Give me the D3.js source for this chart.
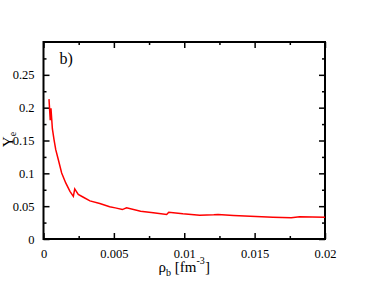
<!DOCTYPE html>
<html>
<head>
<meta charset="utf-8">
<script src="https://cdn.jsdelivr.net/npm/d3@7"></script>
<style>
  body { margin: 0; background: #fff; }
  svg, svg text { font-family: "Liberation Serif", "Times New Roman", Times, "DejaVu Serif", serif !important; }
</style>
</head>
<body>
<div class="canvas"></div>
<script>
// data
const rho = [0.00039, 0.00048, 0.00053, 0.00063, 0.00075, 0.00087, 0.00105, 0.00129, 0.00158, 0.00188,
  0.00212, 0.00222, 0.00247, 0.0028, 0.0033, 0.004, 0.0047, 0.0051, 0.0056, 0.0059,
  0.0069, 0.0078, 0.00875, 0.0089, 0.0099, 0.0111, 0.0121, 0.0124, 0.0135, 0.0147,
  0.0163, 0.0176, 0.0182, 0.02];
const ye = [0.213, 0.181, 0.199, 0.168, 0.151, 0.136, 0.121, 0.1005, 0.0854, 0.0726,
  0.065, 0.0763, 0.068, 0.064, 0.058, 0.054, 0.049, 0.0474, 0.0448, 0.0474,
  0.0422, 0.0398, 0.0372, 0.0407, 0.0383, 0.0362, 0.0368, 0.0372, 0.0357, 0.0346,
  0.0331, 0.0322, 0.0337, 0.033];
const xTicks = [0, 0.005, 0.01, 0.015, 0.02];
const xTickLabels = ['0', '0.005', '0.01', '0.015', '0.02'];
const yTicks = [0, 0.05, 0.1, 0.15, 0.2, 0.25];
const yTickLabels = ['0', '0.05', '0.1', '0.15', '0.2', '0.25'];

const font = "Liberation Serif, Times New Roman, Times, DejaVu Serif, serif";
const margin = { top: 42, right: 41, bottom: 44, left: 43.5 };
const width = 366, height = 283;
const graphWidth = width - margin.left - margin.right;
const graphHeight = height - margin.top - margin.bottom;

const svg = d3.select('.canvas')
  .append('svg')
  .attr('width', width)
  .attr('height', height)
  .attr('font-family', font);

const graph = svg.append('g')
  .attr('transform', `translate(${margin.left},${margin.top})`);

// scales
const x = d3.scaleLinear().domain([0, 0.02]).range([0, graphWidth]);
const y = d3.scaleLinear().domain([0, 0.3]).range([graphHeight, 0]);

const xMinor = d3.range(0, 0.0201, 0.0025).filter(v => !xTicks.some(t => Math.abs(t - v) < 1e-9));
const yMinor = d3.range(0.025, 0.3, 0.05);

// axes with inward ticks
const styleAxis = g => {
  g.attr('font-family', font);
  g.select('.domain').remove();
  g.selectAll('line').attr('stroke', '#000').attr('stroke-width', 1.5);
  g.selectAll('text').attr('font-size', 12.5).attr('fill', '#000');
};

graph.append('g')
  .attr('transform', `translate(0,${graphHeight})`)
  .call(d3.axisBottom(x).tickValues(xTicks).tickSize(-6).tickPadding(10)
    .tickFormat((d, i) => xTickLabels[i]))
  .call(styleAxis);
graph.append('g')
  .attr('transform', `translate(0,${graphHeight})`)
  .call(d3.axisBottom(x).tickValues(xMinor).tickSize(-3).tickFormat(''))
  .call(styleAxis);
graph.append('g')
  .call(d3.axisTop(x).tickValues(xTicks).tickSize(-6).tickFormat(''))
  .call(styleAxis);
graph.append('g')
  .call(d3.axisTop(x).tickValues(xMinor).tickSize(-3).tickFormat(''))
  .call(styleAxis);

graph.append('g')
  .call(d3.axisLeft(y).tickValues(yTicks).tickSize(-6).tickPadding(9)
    .tickFormat((d, i) => yTickLabels[i]))
  .call(styleAxis);
graph.append('g')
  .call(d3.axisLeft(y).tickValues(yMinor).tickSize(-3).tickFormat(''))
  .call(styleAxis);
graph.append('g')
  .attr('transform', `translate(${graphWidth},0)`)
  .call(d3.axisRight(y).tickValues(yTicks).tickSize(-6).tickFormat(''))
  .call(styleAxis);
graph.append('g')
  .attr('transform', `translate(${graphWidth},0)`)
  .call(d3.axisRight(y).tickValues(yMinor).tickSize(-3).tickFormat(''))
  .call(styleAxis);

// frame
graph.append('rect')
  .attr('width', graphWidth)
  .attr('height', graphHeight)
  .attr('fill', 'none')
  .attr('stroke', '#000')
  .attr('stroke-width', 2);

// data line
const line = d3.line()
  .x((d, i) => x(rho[i]))
  .y(d => y(d));

graph.append('path')
  .datum(ye)
  .attr('fill', 'none')
  .attr('stroke', '#ff0000')
  .attr('stroke-width', 1.5)
  .attr('d', line);

// panel label
graph.append('text')
  .attr('x', 16)
  .attr('y', 22)
  .attr('font-size', 16)
  .text('b)');

// axis titles
const xt = svg.append('text')
  .attr('x', margin.left + graphWidth / 2)
  .attr('y', 272)
  .attr('text-anchor', 'middle')
  .attr('font-size', 15);
xt.append('tspan').text('ρ');
xt.append('tspan').attr('font-size', 10).attr('dy', 4).text('b');
xt.append('tspan').attr('dy', -4).text(' [fm');
xt.append('tspan').attr('font-size', 10).attr('dy', -8).text('-3');
xt.append('tspan').attr('dy', 8).text(']');

const yt = svg.append('text')
  .attr('transform', `translate(13,${margin.top + graphHeight / 2 - 1}) rotate(-90)`)
  .attr('text-anchor', 'middle')
  .attr('font-size', 15);
yt.append('tspan').text('Y');
yt.append('tspan').attr('font-size', 10).attr('dy', 3).text('e');
</script>
</body>
</html>
